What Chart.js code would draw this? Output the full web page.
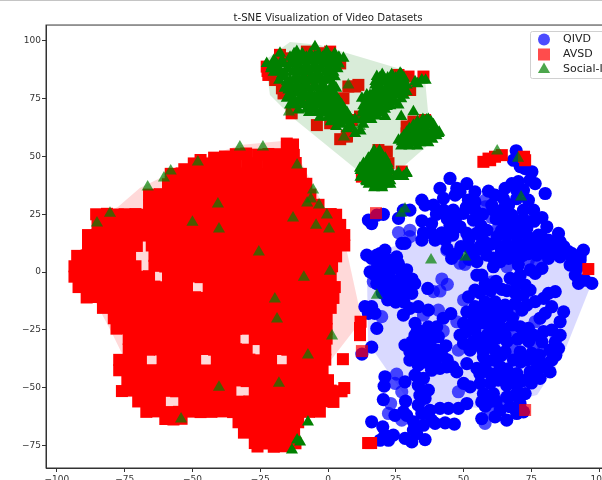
<!DOCTYPE html>
<html>
<head>
<meta charset="utf-8">
<script src="https://cdn.jsdelivr.net/npm/chart.js@4/dist/chart.umd.js"></script>
<style>
  html, body { margin: 0; background: #fff; overflow: hidden; width: 602px; height: 480px; }
  #wrap { position: absolute; left: 0; top: 0; width: 602px; height: 480px; overflow: hidden; }
  #topline { position: absolute; left: 0; top: 0; width: 602px; height: 1px; background: #c4c4c4; }
  canvas { filter: blur(0.5px); }
</style>
</head>
<body>
<div id="wrap">
  <canvas id="chart" width="660" height="500"></canvas>
  <div id="topline"></div>
</div>
<script>
const chartTitle = "t-SNE Visualization of Video Datasets";
const seriesNames = ["QIVD", "AVSD", "Social-IG"];
const xTicks = [-100, -75, -50, -25, 0, 25, 50, 75, 100];
const yTicks = [-75, -50, -25, 0, 25, 50, 75, 100];

const qivdHull = [[14.4,-2.6],[22.1,10.4],[52.4,20.3],[80,17.3],[94.8,4.3],[96.7,-6.5],[86.7,-35.9],[77.1,-53.2],[56.8,-58.9],[30,-56.3],[14.8,-30.7]];
const avsdHull = [[-77.5,28.1],[-69.4,36.4],[-48.3,48.5],[-32.5,55],[-14,57],[7,8.7],[12.5,-20.8],[-0.4,-40.3],[-8,-60],[-30,-63],[-60,-60],[-74,-40],[-79.7,-26.4],[-92,1],[-87,10],[-85,24]];
const socialHull = [[-23.2,91.8],[-14,99.6],[-3,98.3],[25.5,88.3],[35.8,83.1],[36.9,69.3],[42,60.2],[25.5,43.3],[18.5,36.4],[10.7,44.2],[-12.9,66.7],[-21.4,76.6]];

// circles that read as overlapping (solid blue)
const qivdSolid = [
  [45,40.5],[41.3,36.2],[47.5,36.2],[51.2,38.3],[54.2,34.7],[42.6,31.9],[46.9,33.3],[48.7,34.7],[51.8,31.1],[54.2,30.4],
  [34.6,31.1],[30.2,26.8],[35.8,29],[38.9,29],[42.6,26.8],[38.2,21],[34.6,22.2],[26,23.2],[27.8,26.8],[20.4,25],[14.9,22.5],[16.1,21],[18,24.6],
  [35.2,17],[34.6,13.8],[28.4,12.4],[27.2,12.4],[39.5,13.8],[43.2,13.8],[45,20.3],[46.2,26.8],[49.9,25.4],[54.2,26.8],[48.7,19.6],[53.6,22.5],[51.2,16.7],[54.8,16.7],
  [47.5,8],[52.4,10.2],[54.8,9.5],[14.3,7.3],[18,7.3],[21,9.5],[19.2,8],[56.5,20],[57,25],[57,14],
  [69.4,52.5],[68.4,48.4],[70.9,45.6],[72.7,44.8],[75.2,43.4],[74.5,39.8],[76.4,38.3],[70.2,39.1],[67.8,38.3],[65.3,36.2],[59.2,35],[61.6,33.3],[69.6,31.8],[73.9,31.1],[80.1,34],[72.1,35.5],[69.6,35.5],
  [60.4,29],[64.7,31.8],[66.6,29],[61,26.8],[64.1,26.8],[72.1,26.8],[75.8,26.8],[78.9,23.6],[67.8,24.6],[74.5,21.8],[69.6,20.3],[73.3,18.9],[80.7,19.6],[85,16.7],[77.6,16],[58.6,18.1],[65.9,16],[62.3,15.3],[69.6,15.3],[81.3,13.8],[85.6,13.1],[58.6,12.4],[63.5,10.9],[72.1,11.6],[77.6,10.9],[83.2,10.9],[88.7,8.8],[94.2,9.5],[67.2,7.3],[72.1,7.3],[77,7.3],[81.3,7.3],[85.6,6.6],[93,6.6],[58.6,7.3],
  [15.5,0.1],[16.1,5.9],[19.2,5.9],[22.3,5.2],[25.3,6.6],[18,1.6],[21,1.6],[24.1,1.6],[27.2,0.1],[19.8,-2.7],[22.9,-2.7],[26,-3.5],[28.4,-2],[21.6,-6.3],[24.7,-7.1],[28.4,-6.3],[30.2,-7.1],[23.5,-10.7],[27.2,-10.7],[30.9,-9.2],
  [13.6,-15],[16.1,-15],[17.3,-17.9],[14.9,-17.9],[18,-24.4],[16.1,-32.5],[36.8,-7.1],[27.8,-18.6],[30.2,-15.7],[33.3,-15],[37,-16.5],[42.5,-20],[45.3,-18],[32.1,-22.2],
  [37,-23.7],[40.1,-23.7],[35.2,-26.5],[32.1,-27.3],[40.7,-28],[37.6,-27.3],[43.5,-31.9],[28.4,-31.6],[30.9,-30.2],[34,-30.9],[37.6,-30.9],[32.7,-34.5],[36.4,-34.5],[40.1,-33.8],[30.2,-34.5],
  [45.6,5.9],[54.9,4.5],[54.9,-1.3],[51.8,-10.7],[54.2,-7.8],[51.2,-17.2],[54.2,-15],[53.6,-18.6],[50,-22.2],[53.6,-21.5],[48.7,-27.3],[51.2,-25.8],[54.2,-25.1],[50,-30.9],[53.6,-30.2],[52.4,-33.8],
  [61,2.3],[63.5,4.5],[66.6,5.9],[70.9,6.6],[81.3,5.9],[89.9,5.9],[93,5.2],[91.8,1.6],[89.3,3],[91.2,-1.3],[92.4,-4.9],[94.8,-3.5],[97.3,-4.9],[70.2,3],[74.6,0.9],[78.9,1.6],[76.4,-0.6],
  [67.2,-2.7],[70.9,-1.3],[69.6,-4.9],[72.7,-5.6],[74.5,-7.8],[64.1,-7.5],[56.7,-1.3],[83.8,-8.5],[81.3,-9.2],[79.5,-11.4],[76.4,-12.8],[73.3,-14.3],[82.5,-15],[80.1,-17.9],[86.9,-17.2],[85.6,-21.5],[78.2,-20],
  [67.8,-22.9],[70.9,-23.7],[73.9,-24.4],[57.9,-12.9],[61.6,-12.9],[65.3,-14.3],[69,-13.6],[71.5,-16.5],[56.7,-17.2],[60.4,-17.9],[64.1,-19.3],[57.9,-22.2],[61.6,-23.7],[58.6,-27.3],[62.3,-28.7],[65.3,-27.3],
  [75.8,-27.3],[79.5,-25.8],[82.5,-25.1],[85.6,-27.3],[83.8,-30.2],[81.9,-33.8],[85,-33],[78.9,-30.2],[75.2,-35.2],[70.9,-34.5],[65.3,-34.5],[61.6,-33.8],[57.3,-34.5],
  [30.2,-38.1],[33.3,-40.3],[37,-36],[39.5,-35.2],[32.1,-44.6],[35.2,-46],[38.2,-42.5],[41.3,-41.7],[43.8,-41],[47.5,-43.2],[51.2,-39.6],[21,-45.3],[20.7,-49.4],[28.4,-47.5],[20.4,-55.2],[28.6,-55.9],
  [33.3,-49],[37,-51.1],[33.9,-53.3],[35.8,-54.7],[33.3,-57.6],[24.7,-62],[27.8,-60.5],[29,-62],[31.5,-64.8],[37.6,-59.8],[41.3,-59],[44.4,-59],[48.1,-59],[51.2,-56.9],[34.6,-61.2],[38.2,-64.1],[35.2,-66.3],[31.5,-68.4],[39.5,-65.5],[43.2,-65.3],[46.6,-65.8],
  [16.1,-64.8],[20.2,-67],[21,-70.6],[24.1,-70.6],[19.2,-72.8],[22.3,-72.8],[28.4,-72],[30.9,-73.5],[35.8,-72.5],[32.7,-69.9],[50,-48.2],[52.4,-49.7],
  [54.9,-41.7],[57.9,-41],[57.3,-36.7],[61,-38.1],[59.8,-43.9],[63.5,-41],[62.8,-46.8],[65.9,-45.4],[69.6,-43.9],[68.4,-38.1],[74.5,-43.2],[78.2,-46],[81.9,-43.2],[82.5,-38.1],[78.8,-41],[73.3,-38.1],
  [56.1,-48.2],[59.8,-48.2],[57.3,-52.6],[61,-52.6],[56.7,-56.2],[65.9,-49],[69.6,-49],[72.7,-52.6],[69,-53.3],[70.8,-56.9],[63.5,-59.8],[67.2,-58.3],[69.6,-61.2],[72.1,-60.5],[56.7,-63.4],[61.6,-62.7],[65.9,-64.1],[12.5,-35.5],
  [17,-1],[20,4],[23,4],[26,3.5],[29,1],[31,-3],[18,-5],[24,-5],[26,-8],[29,-9],[32,-5],[20,-9],[22,-12],[25,-13],[28,-13],[19,-2],
  [62,23],[65,22],[68,21],[72,23],[76,22],[64,18],[67,17],[71,18],[74,15],[79,15],[66,12],[69,11],[75,12],[80,11],[61,6],[64,9],[69,9],[74,8],[79,9],[84,8],[87,11],[90,8],[60,12],[56,11],[52,14],[46,16],[42,17],[47,23],[51,28],[44,23],[40,25],[38,17],[52,5.5],[49,11],[44,10],
  [58,-5],[60,-8],[56,-9],[62,-4],[66,-8],[69,-9],[72,-10],[59,-17],[62,-16],[66,-17],[68,-20],[56,-22],[60,-21],[64,-24],[60,-25],[66,-30],[70,-29],[72,-27],[74,-30],[60,-31],[56,-29],[56,-32],[58,-38],[64,-36],[71,-39],[66,-42],[62,-44],[72,-47],[76,-43],[80,-40],[84,-36],[78,-36],[76,-38],[75,-48],[68,-46],[56,-44],[58,-58],[62,-56],[66,-54],[60,-56],
  [33,-37],[36,-39],[40,-37],[35,-31],[38,-38],[42,-36],[44,-38],[46,-41],[33,-25],[38,-33]
];
// circles with no overlap (lighter blue)
const qivdFaint = [
  [26,17.1],[30.2,18.1],[30.2,15.3],[43.8,9.5],[58,31.1],[58,28.2],[70.9,23.9],[60.4,23.6],[62.9,19.6],[16.7,-4.2],[19.8,-19.3],[38.9,-8.5],[41.3,-8.2],[42,-3],[44,-5.3],[35.2,-18.6],[40.7,-16.5],[42.5,-25.5],
  [48.7,3.8],[50.5,3.3],[50,-12.1],[47.5,-21.5],[48.1,-33.8],[73.9,5.2],[77,3.8],[66,2.3],[60.4,-4.2],[76.4,-21.5],[68.4,-18.6],[68.4,-26.5],[75.8,-32.3],[79.5,-33.8],[67.8,-33],
  [25.3,-44.2],[24.7,-48.2],[27.2,-51.8],[23.1,-56.9],[22.3,-61.2],[27.2,-64.1],[48.1,-51.8],[64.7,-55.5],[59.8,-60.5],[57.9,-65.5]
];

const avsdMass = [
  [-15.2,55.6],[-12.9,55.2],
  [-42,49.5],[-38,50],[-47,48.5],[-49.5,47],[-53,44.5],
  [-34,51],[-30.2,51.3],[-25.8,50.8],[-22,51.1],[-18.1,51],[-14,51.2],[-12.6,50.7],
  [-45.7,47],[-41.9,46.8],[-38.1,47.2],[-34,47],[-29.8,46.9],[-26.2,47.1],[-22,47],[-17.8,46.8],[-14.1,47],[-11.9,47.2],
  [-58,42.5],[-54,42.7],[-50.1,42.3],[-46,42.5],[-42,42.6],[-38,42.4],[-34.1,42.5],[-30,42.7],[-26,42.4],[-22,42.5],[-18,42.6],[-14,42.3],[-10,42.5],
  [-59,38],[-55,38.2],[-51,37.9],[-47,38],[-43,38.1],[-39,37.8],[-35,38],[-31,38.2],[-27,37.9],[-23,38],[-19,38.1],[-15,37.9],[-11,38],[-8,38.2],
  [-66,33.5],[-62,33.7],[-58,33.4],[-54,33.5],[-50,33.6],[-46,33.4],[-42,33.5],[-38,33.7],[-34,33.4],[-30,33.5],[-26,33.6],[-22,33.4],[-18,33.5],[-14,33.7],[-10,33.4],[-6.5,33.5],
  [-66,29],[-63,29.2],[-59,28.9],[-55,29],[-51,29.1],[-47,28.8],[-43,29],[-39,29.2],[-35,28.9],[-31,29],[-27,29.1],[-23,28.8],[-19,29],[-15,29.2],[-11,28.9],[-7,29],[-3.5,29.1],
  [-85.5,25],[-81.5,25.2],[-77.5,24.9],[-75,25],[-71,25.1],[-67,24.8],[-63,25],[-59,25.2],[-55,24.9],[-51,25],[-47,25.1],[-43,24.8],[-39,25],[-35,25.2],[-31,24.9],[-27,25],[-23,25.1],[-19,24.8],[-15,25],[-11,25.2],[-7,24.9],[-3,25],[1,25.1],[3,24.8],
  [-85,20.5],[-81,20.7],[-77,20.4],[-73,20.5],[-69,20.6],[-65,20.4],[-61,20.5],[-57,20.7],[-53,20.4],[-49,20.5],[-45,20.6],[-41,20.4],[-37,20.5],[-33,20.7],[-29,20.4],[-25,20.5],[-21,20.6],[-17,20.4],[-13,20.5],[-9,20.7],[-5,20.4],[-1,20.5],[3,20.6],[4.5,20.4],
  [-88.5,16],[-85,16.2],[-81,15.9],[-77,16],[-73,16.1],[-69,15.8],[-65,16],[-61,16.2],[-57,15.9],[-53,16],[-49,16.1],[-45,15.8],[-41,16],[-37,16.2],[-33,15.9],[-29,16],[-25,16.1],[-21,15.8],[-17,16],[-13,16.2],[-9,15.9],[-5,16],[-1,16.1],[3,15.8],[6,16],
  [-88.5,11.5],[-86,11.7],[-82,11.4],[-78,11.5],[-74,11.6],[-70.5,11.3],[-65,11.5],[-61,11.7],[-57,11.4],[-53,11.5],[-49,11.6],[-45,11.4],[-41,11.5],[-37,11.7],[-33,11.4],[-29,11.5],[-25,11.6],[-21,11.4],[-17,11.5],[-13,11.7],[-9,11.4],[-5,11.5],[-1,11.6],[2,11.4],[6,11.5],
  [-92.5,7],[-89,7.2],[-85,6.9],[-81,7],[-77,7.1],[-73,6.8],[-64,7],[-60,7.2],[-56,6.9],[-52,7],[-48,7.1],[-44,6.8],[-40,7],[-36,7.2],[-32,6.9],[-28,7],[-24,7.1],[-20,6.8],[-16,7],[-12,7.2],[-8,6.9],[-4,7],[0,7.1],[3,6.8],
  [-93.5,2.5],[-90,2.7],[-86,2.4],[-82,2.5],[-78,2.6],[-74,2.4],[-71,2.5],[-64,2.7],[-60,2.4],[-56,2.5],[-52,2.6],[-48,2.4],[-44,2.5],[-40,2.7],[-36,2.4],[-32,2.5],[-28,2.6],[-24,2.4],[-20,2.5],[-16,2.7],[-12,2.4],[-8,2.5],[-4,2.6],[0,2.4],[1.5,2.5],
  [-93.5,-2],[-90,-1.8],[-86,-2.1],[-82,-2],[-78,-1.9],[-74,-2.2],[-70,-2],[-66,-1.8],[-59,-2.1],[-55,-2],[-51,-1.9],[-47,-2.2],[-43,-2],[-39,-1.8],[-35,-2.1],[-31,-2],[-27,-1.9],[-23,-2.2],[-19,-2],[-15,-1.8],[-11,-2.1],[-7,-2],[-3,-1.9],[1,-2.2],
  [-92,-6.5],[-88,-6.3],[-84,-6.6],[-80,-6.5],[-76,-6.4],[-72,-6.6],[-68,-6.5],[-64,-6.3],[-60,-6.6],[-56,-6.5],[-52,-6.4],[-44,-6.5],[-40,-6.3],[-36,-6.6],[-32,-6.5],[-28,-6.4],[-24,-6.6],[-20,-6.5],[-16,-6.3],[-12,-6.6],[-8,-6.5],[-4,-6.4],[0,-6.6],[2.5,-6.5],
  [-89,-11],[-85,-10.8],[-81,-11.1],[-77,-11],[-73,-10.9],[-69,-11.2],[-65,-11],[-61,-10.8],[-57,-11.1],[-53,-11],[-49,-10.9],[-45,-11.2],[-41,-11],[-37,-10.8],[-33,-11.1],[-29,-11],[-25,-10.9],[-21,-11.2],[-17,-11],[-13,-10.8],[-9,-11.1],[-5,-11],[-1,-10.9],[2,-11.2],
  [-83,-15.5],[-79,-15.3],[-75,-15.6],[-71,-15.5],[-67,-15.4],[-63,-15.6],[-59,-15.5],[-55,-15.3],[-51,-15.6],[-47,-15.5],[-43,-15.4],[-39,-15.6],[-35,-15.5],[-31,-15.3],[-27,-15.6],[-23,-15.5],[-19,-15.4],[-15,-15.6],[-11,-15.5],[-7,-15.3],[-3,-15.6],[1,-15.5],
  [-79,-20],[-75,-19.8],[-71,-20.1],[-67,-20],[-63,-19.9],[-59,-20.2],[-55,-20],[-51,-19.8],[-47,-20.1],[-43,-20],[-39,-19.9],[-35,-20.2],[-31,-20],[-27,-19.8],[-23,-20.1],[-19,-20],[-15,-19.9],[-11,-20.2],[-7,-20],[-3,-19.8],[-0.5,-20.1],
  [-78,-24.5],[-74,-24.3],[-70,-24.6],[-66,-24.5],[-62,-24.4],[-58,-24.6],[-54,-24.5],[-50,-24.3],[-46,-24.6],[-42,-24.5],[-38,-24.4],[-34,-24.6],[-30,-24.5],[-26,-24.3],[-22,-24.6],[-18,-24.5],[-14,-24.4],[-10,-24.6],[-6,-24.5],[-2,-24.3],[-0.5,-24.6],
  [-73.5,-29],[-70,-28.8],[-66,-29.1],[-62,-29],[-58,-28.9],[-54,-29.2],[-50,-29],[-46,-28.8],[-42,-29.1],[-38,-29],[-34.5,-28.9],[-27,-29],[-23,-28.8],[-19,-29.1],[-15,-29],[-11,-28.9],[-7,-29.2],[-3,-29],[-0.5,-28.8],
  [-73.5,-33.5],[-70,-33.3],[-66,-33.6],[-62,-33.5],[-58,-33.4],[-54,-33.6],[-50,-33.5],[-46,-33.3],[-42,-33.6],[-38,-33.5],[-34,-33.4],[-30,-33.6],[-23,-33.5],[-19,-33.3],[-15,-33.6],[-11,-33.5],[-7,-33.4],[-3,-33.6],[-1,-33.5],
  [-77,-38],[-73,-37.8],[-69,-38.1],[-61,-38],[-57,-37.9],[-53,-38.2],[-49,-38],[-41,-37.8],[-37,-38.1],[-33,-38],[-29,-37.9],[-25,-38.2],[-21,-38],[-13,-37.8],[-9,-38.1],[-5,-38],[-1,-37.9],
  [-77,-42.5],[-73,-42.3],[-69,-42.6],[-65,-42.5],[-61,-42.4],[-57,-42.6],[-53,-42.5],[-49,-42.3],[-45,-42.6],[-41,-42.5],[-37,-42.4],[-33,-42.6],[-29,-42.5],[-25,-42.3],[-21,-42.6],[-17,-42.5],[-13,-42.4],[-9,-42.6],[-5,-42.5],[-2,-42.3],
  [-74,-47],[-70,-46.8],[-66,-47.1],[-62,-47],[-58,-46.9],[-54,-47.2],[-50,-47],[-46,-46.8],[-42,-47.1],[-38,-47],[-34,-46.9],[-30,-47.2],[-26,-47],[-22,-46.8],[-18,-47.1],[-14,-47],[-10,-46.9],[-6,-47.2],[-2,-47],[0,-46.8],
  [-76,-51.5],[-72,-51.3],[-68,-51.6],[-64,-51.5],[-60,-51.4],[-56,-51.6],[-52,-51.5],[-48,-51.3],[-44,-51.6],[-40,-51.5],[-36,-51.4],[-27,-51.5],[-23,-51.3],[-19,-51.6],[-15,-51.5],[-11,-51.4],[-7,-51.6],[-3,-51.5],[1,-51.3],[5,-51.6],[6,-50.2],
  [-70,-56],[-66,-55.8],[-62,-56.1],[-53,-56],[-49,-55.9],[-45,-56.2],[-41,-56],[-37,-55.8],[-33,-56.1],[-29,-56],[-25,-55.9],[-21,-56.2],[-17,-56],[-13,-55.8],[-9,-56.1],[-5,-56],[-1,-55.9],[2,-56.2],
  [-67,-60.5],[-63,-60.3],[-59,-60.6],[-55,-60.5],[-51,-60.4],[-47,-60.6],[-43,-60.5],[-39,-60.3],[-35,-60.6],[-31,-60.5],[-27,-60.4],[-23,-60.6],[-19,-60.5],[-15,-60.3],[-11,-60.6],[-7,-60.5],[-3,-60.4],
  [-60,-63.6],[-57,-63.8],[-54,-63.5],
  [-33,-65],[-29,-64.8],[-25,-65.1],[-21,-65],[-17,-64.9],[-13,-65.2],[-11,-65],
  [-31,-69.5],[-27,-69.3],[-23,-69.6],[-19,-69.5],[-15,-69.4],[-12.5,-69.6],
  [-27,-74],[-23,-74.2],[-19,-73.9],[-15,-74],[-12,-74.1],
  [-26,-75.5],[-20,-75.6],[-16,-75.4],
  [57.3,47.7],[59.8,48.4],[61.6,49.9],[64.1,50.6],[59.2,49.1],[72.3,49.9],[72.7,48.4],[96,1.3],[15.9,-74],[14.8,-74],
  [11.8,-24.2],[11.8,-27.3],[12,-21.5],[5.5,-37.7],
  [-22.6,88.9],[-22,85.3],[-22.3,87],[-17.7,94],[-14.6,92.5],[-7.8,95.4],[-3.5,94.7],[0.8,95.4],[4.5,90.3],[-19.5,83.1],[-17,79.5],[-16.4,77.3],[-13.4,68.7],[-9,74.5],[-6,83.8],[-12.8,78.8],[-4.1,63.6],[0.8,64.4],[2.6,65.8],[5.7,75.2],[4.5,57.5],[7,59],
  [10,80.3],[11.2,81],[7.5,80.3],[11.8,67.3],[8.8,65.8],[6.9,58.6],[29.7,84.6],[30.3,78.8],[26,85.3],[35.2,84.6],[29,63],[29,60],[31.5,65.1],[35.8,65.8],[18.6,52.8],[21.7,52.1],[21.7,41.3],[17.4,39.9],[27.2,43.5],[22.3,47.1],[12.5,41.3]
];
// single squares sitting on the blue cluster
const avsdOutliers = [[17.7,25.5],[72.7,-59.7],[12.5,-34.2]];

const socialSolid = [
  [18,84.6],[17.4,81],[21.1,83.1],[23.5,83.9],[26.6,86],[24.8,81.7],[27.8,81],[21.1,78.8],[18.6,78.1],[24.8,77.4],[22.3,75.2],[27.2,78.1],[32.1,82.4],[34.6,83.1],[14.3,76.6],[12.5,75.2],[15.5,73],[18.6,73.8],[16.1,69.4],[18.6,70.2],[14.9,66.5],[21.7,71.6],[26,72.3],[31.5,69.4],[21.1,67.3],[27,67.3],
  [19,84],[22,84],[25,84],[28,84],[19,81],[22,81],[25,81],[29,81],[17,78],[20,78],[23,78],[26,78],[29,78],[14,75],[17,75],[20,75],[24,75],[27,75],[13,72],[16,72],[19,72],[23,72],[13,69],[15,69],[17,69],[20,69],[13,66],[16,66],[33,81.5],[36,83],
  [20,85.5],[23.5,85.5],[27,85.5],[17.5,82.5],[20.5,82.5],[23.5,82.5],[27,82.5],[18.5,79.5],[21.5,79.5],[24.5,79.5],[27.5,79.5],[15.5,76.5],[18.5,76.5],[21.5,76.5],[25,76.5],[28,76.5],[14,73.5],[17.5,73.5],[21,73.5],[24.5,73.5],[13,70.5],[14.5,70.5],[17.5,70.5],[21,70.5],[13.5,67.5],[15.5,67.5],[18,67.5],
  [28.4,58.6],[27.2,56.4],[30.3,56.4],[29,55],[32.7,60.8],[34,63.7],[36.4,65.8],[38.9,63.7],[40.7,60],[35.8,62.2],[38.3,59.3],[34,57.2],[36.4,57.9],
  [33,65],[36,65],[38,65],[30,62],[33,62],[36,62],[39,62],[28,59],[31,59],[34,59],[37,59],[40,59],[28,56],[31,56],[34,56],[37,56],[26,57],
  [35,66],[37,66],[31.5,63.5],[34.5,63.5],[37.5,63.5],[29,60.5],[32,60.5],[35,60.5],[38,60.5],[41,60.5],[27,57.5],[29.5,57.5],[32.5,57.5],[35.5,57.5],[38.5,57.5],[27,54.5],[30,54.5],[33,54.5],
  [16.8,51.4],[19.2,51.4],[14.9,49.2],[21.1,49.2],[13.1,47],[16.8,47],[20.4,46.3],[11.8,44.9],[15.5,44.2],[19.2,43.5],[21.7,43.5],[13.7,41.3],[16.8,41.3],[20.4,41.3],[14.3,39.1],[17.4,37.3],[19.8,37.3],[21.7,38.1],
  [16,50],[18,50],[20,50],[14,47],[18,47],[22,47],[12,44],[14,44],[17,44],[20,44],[23,44],[12,41],[15,41],[18,41],[22,41],[15,38],[18,38],[20,38],[23,38],
  [17,52.5],[19,52.5],[15,48.5],[17,48.5],[19,48.5],[21,48.5],[13,45.5],[16,45.5],[19,45.5],[21,45.5],[13,42.5],[16,42.5],[19,42.5],[22,42.5],[14,39.5],[17,39.5],[20,39.5],[23,39.5],[17,36.5],[20,36.5],
  [26,41.6],[29,42.7],[27.8,41.3],[24.8,41.3],[26,43],[29,43],
  [-22.6,90.3],[-17.7,94.7],[-11.5,95.4],[-4.8,97.5],[-0.5,95.4],[5.7,92.5],[-20.8,88.9],[-16.4,90.3],[-18.9,86.7],[-17,85.3],[-12.8,91],[-9.1,92.5],[-4.8,93.2],[-1.1,90.3],[2.6,90.3],[-11.5,87.4],[-7.8,87.4],[-4.1,88.2],[0.8,87.4],[-15.2,82.4],[-12.1,83.1],[-8.5,83.8],[-3.5,83.8],[-0.5,83.8],[2,81],[-14.6,78.8],[-11.5,80.2],[-4.8,80.2],[-2.3,79.5],[0.8,78.1],[-9,78.1],[-15.2,75.2],[-10.9,70.1],[-14,72.3],[-6,74.5],[-3.5,75.9],[-0.5,75.2],[2.6,74.5],[-6.6,71.6],[-1.7,68.7],[2.6,70.1],[4.5,68],[6.3,66.5],[8.8,62.9],[0.8,67.3],[-1.7,71.6],
  [-14,93],[-11,93],[-8,93],[-5,93],[-2,93],[1,93],[4,93],[-19,90],[-14,90],[-11,90],[-8,90],[-5,90],[-2,90],[1,90],[4,90],[-20,86.5],[-16,86.5],[-13,86.5],[-10,86.5],[-7,86.5],[-4,86.5],[-1,86.5],[2,86.5],
  [-18,83],[-14,83],[-10.5,83],[-7,83],[-5,83],[-2,83],[1,83],[-16,79.5],[-13,79.5],[-10,79.5],[-7,79.5],[-3,79.5],[-1,79.5],[1,79.5],[3,79.5],[-13,76],[-10,76],[-8,76],[-5,76],[-2,76],[1,76],[3,76],
  [-12,72.5],[-9,72.5],[-5,72.5],[-3,72.5],[0,72.5],[3,72.5],[5,72.5],[-7,69],[-4,69],[0,69],[3,69],[5,69],[7,69],[2,65.5],[4,65.5],[7,65.5],
  [-12.5,94.5],[-9.5,94.5],[-6.5,94.5],[-3.5,94.5],[-0.5,94.5],[2.5,94.5],[-20,91.5],[-17,91.5],[-12.5,91.5],[-9.5,91.5],[-6.5,91.5],[-3.5,91.5],[-0.5,91.5],[2.5,91.5],
  [-21,88],[-18,88],[-14.5,88],[-11.5,88],[-8.5,88],[-5.5,88],[-2.5,88],[0.5,88],[3.5,88],[-16,84.5],[-12,84.5],[-9,84.5],[-6,84.5],[-3.5,84.5],[-0.5,84.5],[2.5,84.5],
  [-14.5,81],[-11.5,81],[-8.5,81],[-5,81],[-2,81],[1.5,81],[-14,77.5],[-11.5,77.5],[-9,77.5],[-6.5,77.5],[-3.5,77.5],[-0.5,77.5],[2,77.5],
  [-13,74],[-10.5,74],[-7,74],[-4,74],[-1.5,74],[1.5,74],[4,74],[-8,70.5],[-5.5,70.5],[-2,70.5],[1.5,70.5],[4,70.5],[6,70.5],[-3,67],[0,67],[2,67],[5,67],[8,67],
  [8,64],[10,66],[5,64],[3,63],[1,65],[12,61],[10,60],[7,62],[13,64],
  [-7.4,-64.9],[-11.4,-72.7],[-10.3,-73.6],[-13.3,-77]
];
// triangles tinted by what is below them
const socialOver = [
  [11.8,67.3],[8.8,62.2],[11.8,63],[7.5,81],[5.9,58.4],[-14.4,69.3],
  [-85.2,21.2],[-80.4,25.5],[-66.5,36.8],[-60.5,40.7],[-58,43.7],[-48,47.6],[-32.5,54.1],[-24,54.1],[-11.4,46.3],[-40.6,29.4],[-50,21.6],[-40.2,18.6],[-12.9,23.4],[-25.5,8.7],[-19.6,-11.7],[-18.8,-20.3],[-18.1,-48.1],[-40.2,-49.8],[-54.2,-63.6],
  [-5.5,35.5],[-6.3,31.6],[-7.7,29.9],[-3.3,29],[-0.4,24.7],[-4.4,20.3],[0.4,18.6],[0.7,0.4],[-8.9,-2.2],[1.5,-27.7],[-7.4,-35.9],
  [27,25.5],[28.4,27.3],[50.6,6.5],[38,5.2],[18,-10],[71.2,32.5],[70.1,49.3],[62.4,52.4]
];

const toXY = (pts) => pts.map(([x, y]) => ({ x, y }));

function hullSet(pts, color, order) {
  return { type: "line", data: toXY(pts), fill: "shape", backgroundColor: color, borderWidth: 0, pointRadius: 0, tension: 0, order };
}
function markSet(pts, color, style, radius, order) {
  return { data: toXY(pts), backgroundColor: color, borderWidth: 0, pointStyle: style, pointRadius: radius, pointHoverRadius: radius, order };
}

const legendPlugin = {
  id: "mplLegend",
  afterDraw(chart) {
    const ctx = chart.ctx;
    const styles = [
      ["circle", "rgba(0,0,255,0.7)", 6],
      ["rect", "rgba(255,0,0,0.7)", 8.5],
      ["triangle", "rgba(0,128,0,0.7)", 7],
    ];
    const rows = [39.5, 54.5, 69.5];
    ctx.save();
    ctx.fillStyle = "rgba(255,255,255,0.8)";
    ctx.strokeStyle = "#d0d0d0";
    ctx.lineWidth = 1;
    ctx.beginPath();
    ctx.roundRect(530.5, 31.5, 100, 47, 2);
    ctx.fill();
    ctx.stroke();
    seriesNames.forEach((name, i) => {
      ctx.fillStyle = styles[i][1];
      Chart.helpers.drawPoint(ctx, { pointStyle: styles[i][0], radius: styles[i][2], rotation: 0, borderWidth: 0 }, 544, rows[i]);
      ctx.fillStyle = "#222";
      ctx.font = "11px 'DejaVu Sans'";
      ctx.textBaseline = "middle";
      ctx.fillText(name, 563, rows[i]);
    });
    ctx.restore();
  },
};

const framePlugin = {
  id: "frame",
  afterDatasetsDraw(chart) {
    const { left, right, top, bottom } = chart.chartArea;
    const ctx = chart.ctx;
    ctx.save();
    ctx.strokeStyle = "#333";
    ctx.lineWidth = 1;
    ctx.strokeRect(left, top, right - left, bottom - top);
    ctx.restore();
  },
};

const tickFont = { family: "'DejaVu Sans'", size: 9 };
const minusLabel = (v) => String(v).replace("-", "\u2212");

new Chart(document.getElementById("chart"), {
  type: "scatter",
  data: {
    datasets: [
      hullSet(qivdHull, "rgba(0,0,255,0.15)", 90),
      markSet(qivdFaint, "rgba(0,0,255,0.7)", "circle", 6.6, 80),
      markSet(qivdSolid, "rgb(0,0,255)", "circle", 6.6, 70),
      hullSet(avsdHull, "rgba(255,0,0,0.15)", 60),
      markSet(avsdOutliers, "rgba(255,0,0,0.7)", "rect", 8.5, 50),
      markSet(avsdMass, "rgb(255,0,0)", "rect", 8.5, 40),
      hullSet(socialHull, "rgba(0,128,0,0.15)", 30),
      markSet(socialOver, "rgba(0,128,0,0.7)", "triangle", 7, 20),
      markSet(socialSolid, "rgb(0,128,0)", "triangle", 7, 10),
    ],
  },
  options: {
    responsive: false,
    animation: false,
    events: [],
    layout: { padding: { left: 0, right: 50, top: 0, bottom: 0 } },
    plugins: {
      legend: { display: false },
      tooltip: { enabled: false },
      title: {
        display: true,
        fullSize: false,
        text: chartTitle,
        color: "#222",
        font: { family: "'DejaVu Sans'", size: 10.2, weight: "normal" },
        padding: { top: 12, bottom: 0.8 },
      },
    },
    scales: {
      x: {
        type: "linear",
        min: -104,
        max: 104,
        afterBuildTicks: (axis) => { axis.ticks = xTicks.map((value) => ({ value })); },
        afterFit: (axis) => { axis.height = 32; },
        grid: { drawOnChartArea: false, tickLength: 4, color: "#333" },
        border: { color: "#333" },
        ticks: { font: tickFont, color: "#333", padding: 2, maxRotation: 0, autoSkip: false, callback: minusLabel },
      },
      y: {
        type: "linear",
        min: -84.8,
        max: 106.9,
        afterBuildTicks: (axis) => { axis.ticks = yTicks.map((value) => ({ value })); },
        afterFit: (axis) => { axis.width = 46; },
        grid: { drawOnChartArea: false, tickLength: 4, color: "#333" },
        border: { color: "#333" },
        ticks: { font: tickFont, color: "#333", padding: 1, autoSkip: false, callback: minusLabel },
      },
    },
  },
  plugins: [framePlugin, legendPlugin],
});
</script>
</body>
</html>
